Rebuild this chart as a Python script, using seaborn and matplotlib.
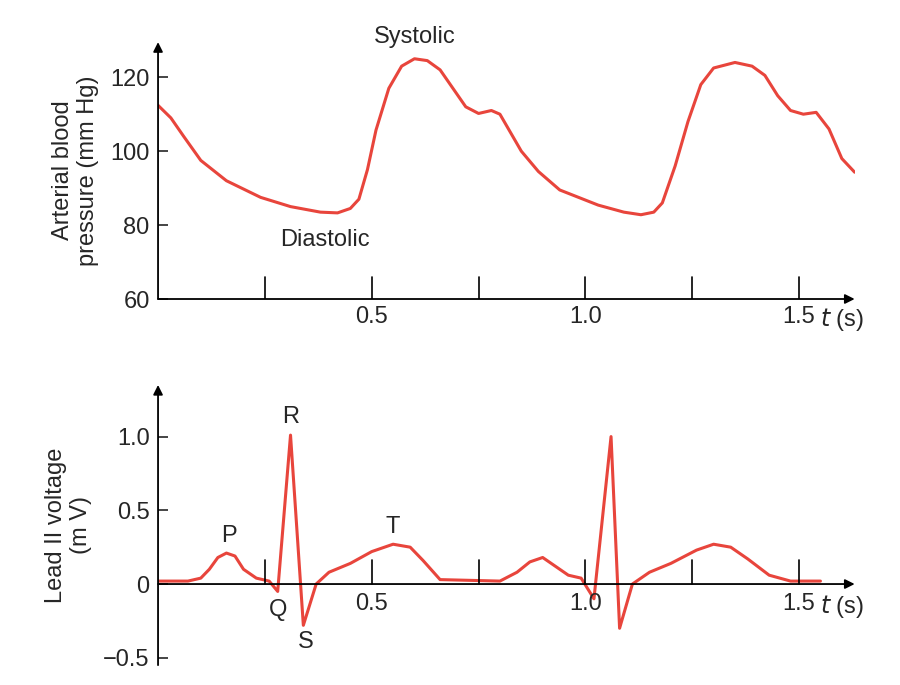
import matplotlib
matplotlib.use("Agg")
import matplotlib.pyplot as plt
import seaborn as sns

# blood pressure curve
bp_t = [0.0, 0.03, 0.06, 0.1, 0.16, 0.24, 0.31, 0.38, 0.42, 0.45, 0.47, 0.49, 0.51, 0.54, 0.57, 0.6, 0.63,
        0.66, 0.69, 0.72, 0.75, 0.78, 0.8, 0.82, 0.85, 0.89, 0.94, 1.03, 1.09, 1.13, 1.16, 1.18,
        1.21, 1.24, 1.27, 1.3, 1.35, 1.39, 1.42, 1.45, 1.48, 1.51, 1.54, 1.57, 1.6, 1.63]
bp_p = [112.4, 109, 104, 97.5, 92, 87.5, 85, 83.5, 83.3, 84.5, 87, 95, 105.7, 117, 123, 125, 124.5,
        122, 117, 112, 110.2, 111, 110, 106, 100, 94.5, 89.5, 85.4, 83.5, 82.8, 83.5, 86,
        96, 108, 118, 122.5, 124, 123, 120.5, 115, 111, 110, 110.5, 106, 98, 94.3]

# ECG lead II
ecg_t = [0.0, 0.07, 0.1, 0.12, 0.14, 0.16, 0.18, 0.2, 0.23, 0.26, 0.28, 0.31, 0.34, 0.37, 0.4,
         0.45, 0.5, 0.55, 0.59, 0.62, 0.66, 0.8, 0.84, 0.87, 0.9, 0.93, 0.96, 0.99, 1.02, 1.06,
         1.08, 1.11, 1.15, 1.2, 1.26, 1.3, 1.34, 1.38, 1.43, 1.48, 1.55]
ecg_v = [0.02, 0.02, 0.04, 0.1, 0.18, 0.21, 0.19, 0.1, 0.04, 0.02, -0.05, 1.01, -0.28, 0.0, 0.08,
         0.14, 0.22, 0.27, 0.25, 0.16, 0.03, 0.02, 0.08, 0.15, 0.18, 0.12, 0.06, 0.04, -0.1, 1.0,
         -0.3, 0.0, 0.08, 0.14, 0.23, 0.27, 0.25, 0.17, 0.06, 0.02, 0.02]

red = "#e8453c"
fs = 17
sns.set_style("white")
plt.rcParams['font.family'] = ['Liberation Sans', 'DejaVu Sans']

fig = plt.figure(figsize=(9, 6.85), dpi=100)
ax1 = fig.add_axes([0.1756, 0.5635, 0.774, 0.375])
ax2 = fig.add_axes([0.1756, 0.029, 0.774, 0.409])


def arrow_axes(ax, ymin, ymax, y0):
    for s in ax.spines.values():
        s.set_visible(False)
    ax.set_xlim(0, 1.63)
    ax.set_ylim(ymin, ymax)
    ax.annotate("", xy=(1.63, y0), xytext=(0, y0), annotation_clip=False,
                arrowprops=dict(arrowstyle="-|>", color="black", lw=1.3, mutation_scale=14, shrinkA=0, shrinkB=0))
    ax.annotate("", xy=(0, ymax), xytext=(0, ymin), annotation_clip=False,
                arrowprops=dict(arrowstyle="-|>", color="black", lw=1.3, mutation_scale=14, shrinkA=0, shrinkB=0))
    for t in [0.25, 0.5, 0.75, 1.0, 1.25, 1.5]:
        ax.plot([t, t], [y0, y0 + (ymax - ymin) * 0.085], color="black", lw=1.2)
    ax.tick_params(axis="both", length=0, labelsize=fs, pad=6)
    ax.tick_params(axis="y", length=7, width=1.2, direction="in", left=True)


# top panel
sns.lineplot(x=bp_t, y=bp_p, ax=ax1, color=red, lw=2.2, sort=False, estimator=None)
arrow_axes(ax1, 60, 129.5, 60)
ax1.set_xticks([])
ax1.set_yticks([60, 80, 100, 120])
ax1.set_ylabel("Arterial blood\npressure (mm Hg)", fontsize=fs, labelpad=8)
for t, lab in [(0.5, "0.5"), (1.0, "1.0"), (1.5, "1.5")]:
    ax1.text(t, 58, lab, fontsize=fs, ha="center", va="top")
ax1.text(1.55, 58, "$t$ (s)", fontsize=fs, va="top")
ax1.text(0.6, 128, "Systolic", fontsize=fs, ha="center", va="bottom")
ax1.text(0.39, 79, "Diastolic", fontsize=fs, ha="center", va="top")

# bottom panel
sns.lineplot(x=ecg_t, y=ecg_v, ax=ax2, color=red, lw=2.2, sort=False, estimator=None)
arrow_axes(ax2, -0.55, 1.35, 0)
ax2.set_xticks([])
ax2.set_yticks([-0.5, 0, 0.5, 1.0])
ax2.set_yticklabels(["\u22120.5", "0", "0.5", "1.0"])
ax2.set_ylabel("Lead II voltage\n(m V)", fontsize=fs, labelpad=8)
for t, lab in [(0.5, "0.5"), (1.0, "1.0"), (1.5, "1.5")]:
    ax2.text(t, -0.06, lab, fontsize=fs, ha="center", va="top")
ax2.text(1.55, -0.06, "$t$ (s)", fontsize=fs, va="top")
for x, y, s, va in [(0.165, 0.25, "P", "bottom"), (0.31, 1.06, "R", "bottom"), (0.55, 0.31, "T", "bottom"),
                    (0.28, -0.1, "Q", "top"), (0.345, -0.32, "S", "top")]:
    ax2.text(x, y, s, fontsize=fs, ha="center", va=va)

fig.savefig("out.png", dpi=100)
